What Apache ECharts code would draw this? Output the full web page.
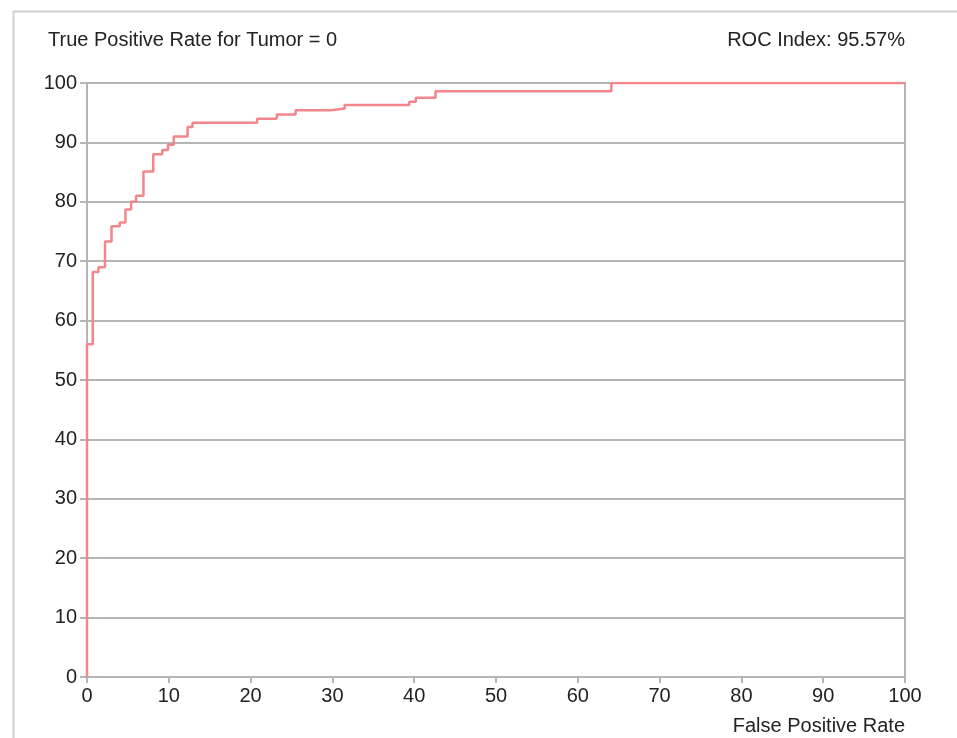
<!DOCTYPE html>
<html>
<head>
<meta charset="utf-8">
<script src="https://cdn.jsdelivr.net/npm/echarts@6/dist/echarts.min.js"></script>
<style>
  html, body { margin: 0; padding: 0; background: #fff; }
  #graph1 { width: 957px; height: 738px; }
</style>
</head>
<body>
<div id="graph1"></div>
<script>
	var myChart1 = echarts.init(document.getElementById('graph1'));

	// ROC curve corners (percent)
	var fpr = [0, 0, 0.7, 1.4, 2.2, 3.0, 4.0, 4.7, 5.4, 6.0, 6.9, 8.1, 9.2, 9.9, 10.6, 12.3, 12.9,
	           20.8, 23.2, 25.5, 29.8, 31.5, 39.4, 40.2, 42.6, 64.1, 100];
	var tpr = [0, 56, 68.2, 69.0, 73.3, 75.9, 76.5, 78.7, 80.0, 81.0, 85.1, 88.0, 88.7, 89.6, 91.0, 92.6, 93.3,
	           94.0, 94.7, 95.4, 95.7, 96.3, 96.85, 97.5, 98.6, 100, 100];
	var xTicks = [0, 10, 20, 30, 40, 50, 60, 70, 80, 90, 100];
	var yTicks = [0, 10, 20, 30, 40, 50, 60, 70, 80, 90, 100];

	var sData = [];
	for (var i = 0; i < fpr.length; i++) {
		sData.push([fpr[i], tpr[i]]);
	}

	var fontName = '"Liberation Sans", Arial, sans-serif';
	var grey = '#b5b5b5';
	var txt = { fontSize: 20, fontWeight: 'normal', color: '#222', fontFamily: fontName };

	var option = {
		animation: false,
		backgroundColor: '#fff',
		textStyle: { fontFamily: fontName },
		title: [
			{ text: 'True Positive Rate for Tumor = 0', left: 48, top: 30, padding: 0, textStyle: txt },
			{ text: 'ROC Index: 95.57%', right: 52, top: 30, padding: 0, textStyle: txt },
			{ text: 'False Positive Rate', right: 52, top: 716, padding: 0, textStyle: txt }
		],
		graphic: [
			{ type: 'rect', left: 11, top: 9, silent: true,
			  shape: { width: 945, height: 740 },
			  style: { fill: 'none', stroke: '#cfcfcf', lineWidth: 2 } }
		],
		grid: {
			left: 87, right: 52, top: 83, bottom: 61,
			show: true, borderColor: grey, borderWidth: 2
		},
		xAxis: {
			type: 'value',
			min: xTicks[0], max: xTicks[xTicks.length - 1], interval: 10,
			axisLine: { show: true, lineStyle: { color: grey, width: 2 } },
			axisTick: { show: true, length: 6, lineStyle: { color: grey, width: 2 } },
			axisLabel: { margin: 9, fontSize: 20, color: '#222', fontFamily: fontName },
			splitLine: { show: false }
		},
		yAxis: {
			type: 'value',
			min: yTicks[0], max: yTicks[yTicks.length - 1], interval: 10,
			axisLine: { show: true, lineStyle: { color: grey, width: 2 } },
			axisTick: { show: true, length: 7, lineStyle: { color: grey, width: 2 } },
			axisLabel: { margin: 10, fontSize: 20, color: '#222', fontFamily: fontName },
			splitLine: { show: true, lineStyle: { color: grey, width: 2 } }
		},
		series: {
			name: 'ROC',
			type: 'line',
			step: 'end',
			symbol: 'none',
			z: 5,
			lineStyle: { color: '#f2868b', width: 2.5 },
			data: sData
		}
	};
	myChart1.setOption(option);
</script>
</body>
</html>
